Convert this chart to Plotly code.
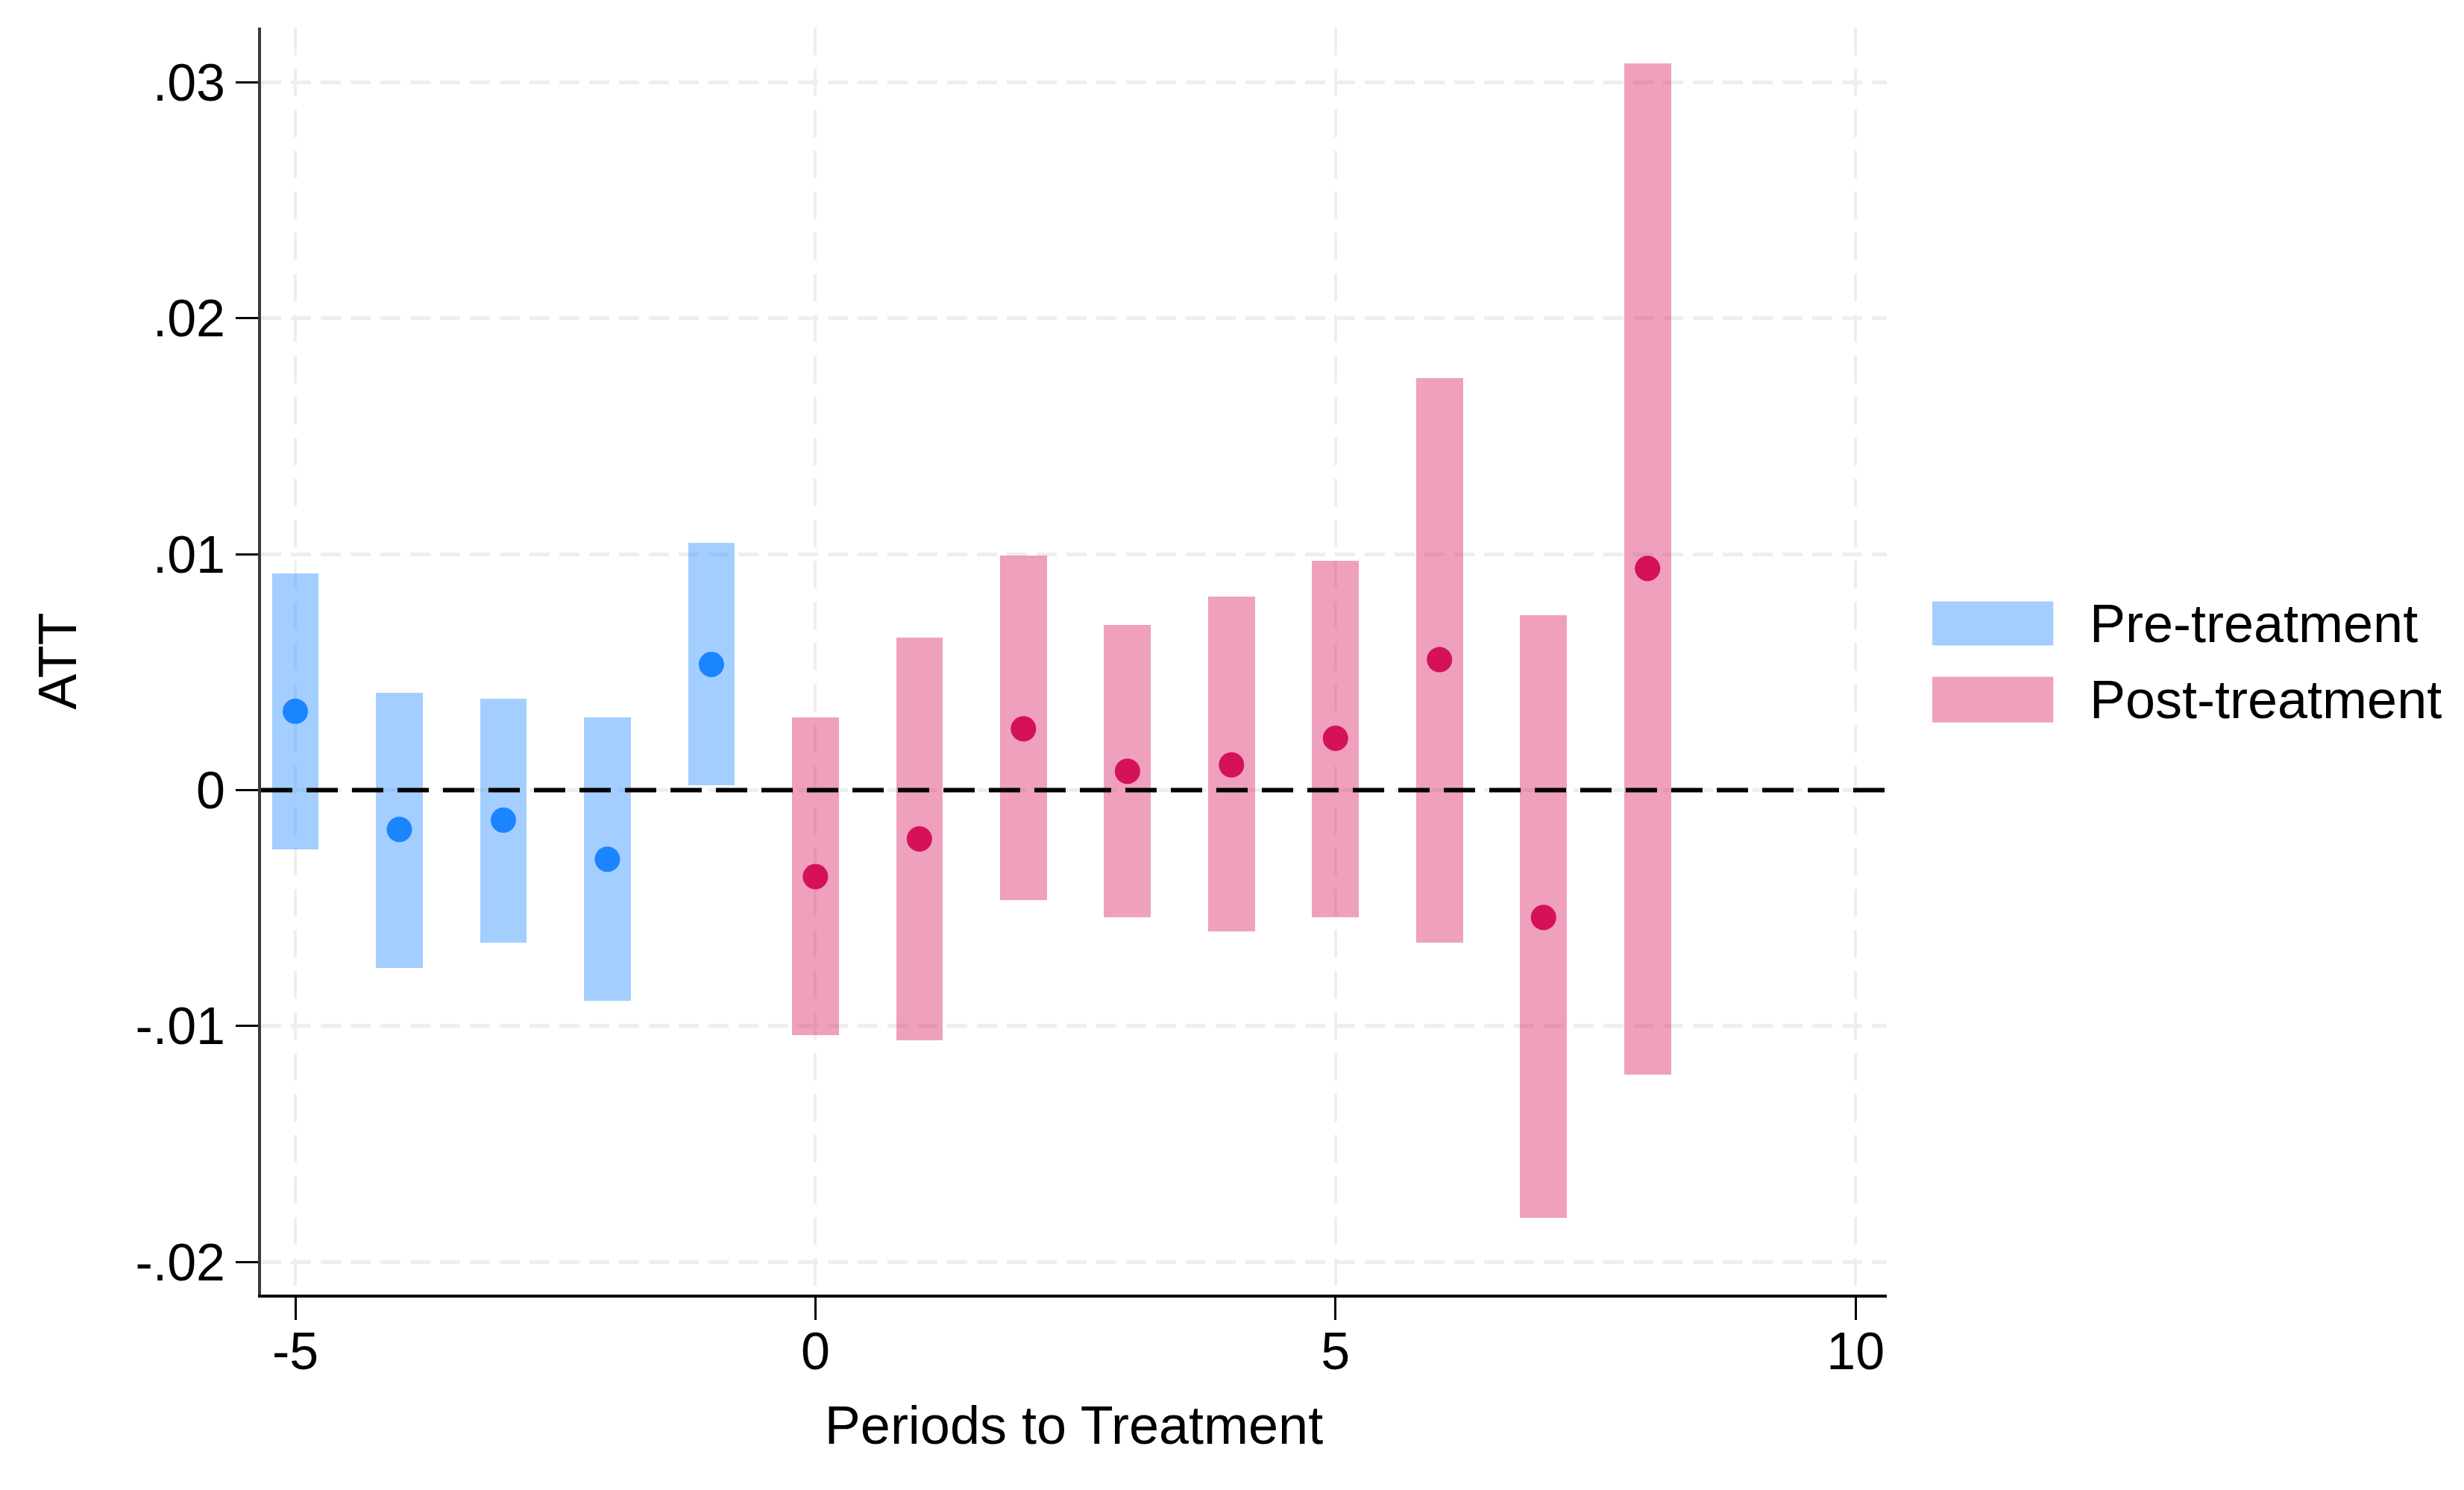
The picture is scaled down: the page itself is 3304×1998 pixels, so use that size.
import plotly.graph_objects as go

# ---- data ----
pre_x = [-5, -4, -3, -2, -1]
pre_att = [0.00334, -0.00167, -0.00127, -0.00293, 0.00533]
pre_lo = [-0.00252, -0.00753, -0.00647, -0.00893, 0.00020]
pre_hi = [0.00918, 0.00413, 0.00387, 0.00307, 0.01047]

post_x = [0, 1, 2, 3, 4, 5, 6, 7, 8]
post_att = [-0.00367, -0.00207, 0.00260, 0.00080, 0.00107, 0.00220, 0.00553, -0.00540, 0.00940]
post_lo = [-0.01040, -0.01060, -0.00467, -0.00540, -0.00600, -0.00540, -0.00647, -0.01813, -0.01207]
post_hi = [0.00307, 0.00647, 0.00993, 0.00700, 0.00820, 0.00973, 0.01747, 0.00740, 0.03080]

y_tickvals = [-0.02, -0.01, 0, 0.01, 0.02, 0.03]
y_ticktext = ["-.02", "-.01", "0", ".01", ".02", ".03"]
x_tickvals = [-5, 0, 5, 10]
x_ticktext = ["-5", "0", "5", "10"]

series_names = ["Pre-treatment", "Post-treatment"]

# ---- style ----
W, H = 3304, 1998
L, R, T, B = 342, 782, 29, 270
X_RANGE = [-5.33, 10.30]
Y_RANGE = [-0.02139, 0.03233]
FONT = "Liberation Sans, Arial, Helvetica, sans-serif"
FS = 70
FS_T = 72
BLUE = "#1A85FF"
PINK = "#D41159"
BLUE_BAR = "rgba(26,133,255,0.40)"
PINK_BAR = "rgba(212,17,89,0.40)"
GRID = "#EEEEEE"

fig = go.Figure()

# zero reference line, drawn first so the bars lie over it
fig.add_trace(go.Scatter(
    x=X_RANGE, y=[0, 0], mode="lines",
    line=dict(color="black", width=6, dash="42px,19px"),
    showlegend=False, hoverinfo="skip"))

fig.add_trace(go.Bar(
    x=pre_x, y=[h - l for h, l in zip(pre_hi, pre_lo)], base=pre_lo,
    width=0.45, marker=dict(color=BLUE_BAR, line=dict(width=0)),
    name=series_names[0], showlegend=False, hoverinfo="skip"))
fig.add_trace(go.Bar(
    x=post_x, y=[h - l for h, l in zip(post_hi, post_lo)], base=post_lo,
    width=0.45, marker=dict(color=PINK_BAR, line=dict(width=0)),
    name=series_names[1], showlegend=False, hoverinfo="skip"))
fig.add_trace(go.Scatter(
    x=pre_x, y=pre_att, mode="markers",
    marker=dict(color=BLUE, size=34, line=dict(width=0)),
    showlegend=False))
fig.add_trace(go.Scatter(
    x=post_x, y=post_att, mode="markers",
    marker=dict(color=PINK, size=34, line=dict(width=0)),
    showlegend=False))

# custom legend (paper coordinates)
legend_items = [
    (series_names[0], BLUE_BAR, 0.5124, 0.5471),
    (series_names[1], PINK_BAR, 0.4516, 0.4876),
]
for name, col, y0, y1 in legend_items:
    fig.add_shape(type="rect", xref="paper", yref="paper",
                  x0=1.028, x1=1.1024, y0=y0, y1=y1,
                  fillcolor=col, line=dict(width=0), layer="above")
    fig.add_annotation(xref="paper", yref="paper", x=1.1237, y=(y0 + y1) / 2,
                       text=name, showarrow=False, xanchor="left", yanchor="middle",
                       font=dict(family=FONT, size=FS_T, color="black"))

fig.update_layout(
    width=W, height=H,
    margin=dict(l=L, r=R, t=T, b=B, pad=0),
    plot_bgcolor="white", paper_bgcolor="white",
    barmode="overlay", bargap=0,
    font=dict(family=FONT, size=FS, color="black"),
    showlegend=False,
)
fig.update_xaxes(
    range=X_RANGE, tickvals=x_tickvals, ticktext=x_ticktext,
    showline=True, linecolor="black", linewidth=4,
    ticks="outside", ticklen=30, tickwidth=3, tickcolor="black",
    showgrid=True, gridcolor=GRID, gridwidth=4, griddash="37px,18px",
    zeroline=False, ticklabelstandoff=-18,
    tickfont=dict(family=FONT, size=FS, color="black"),
    title=dict(text="Periods to Treatment", font=dict(family=FONT, size=FS_T, color="black"), standoff=37),
)
fig.update_yaxes(
    range=Y_RANGE, tickvals=y_tickvals, ticktext=y_ticktext,
    showline=True, linecolor="#3A3A3A", linewidth=4,
    ticks="outside", ticklen=30, tickwidth=3, tickcolor="black",
    showgrid=True, gridcolor=GRID, gridwidth=5, griddash="27px,13px",
    zeroline=False,
    tickfont=dict(family=FONT, size=FS, color="black"),
    title=dict(text="ATT", font=dict(family=FONT, size=FS_T, color="black"), standoff=56),
)

fig.write_html("out.html")
